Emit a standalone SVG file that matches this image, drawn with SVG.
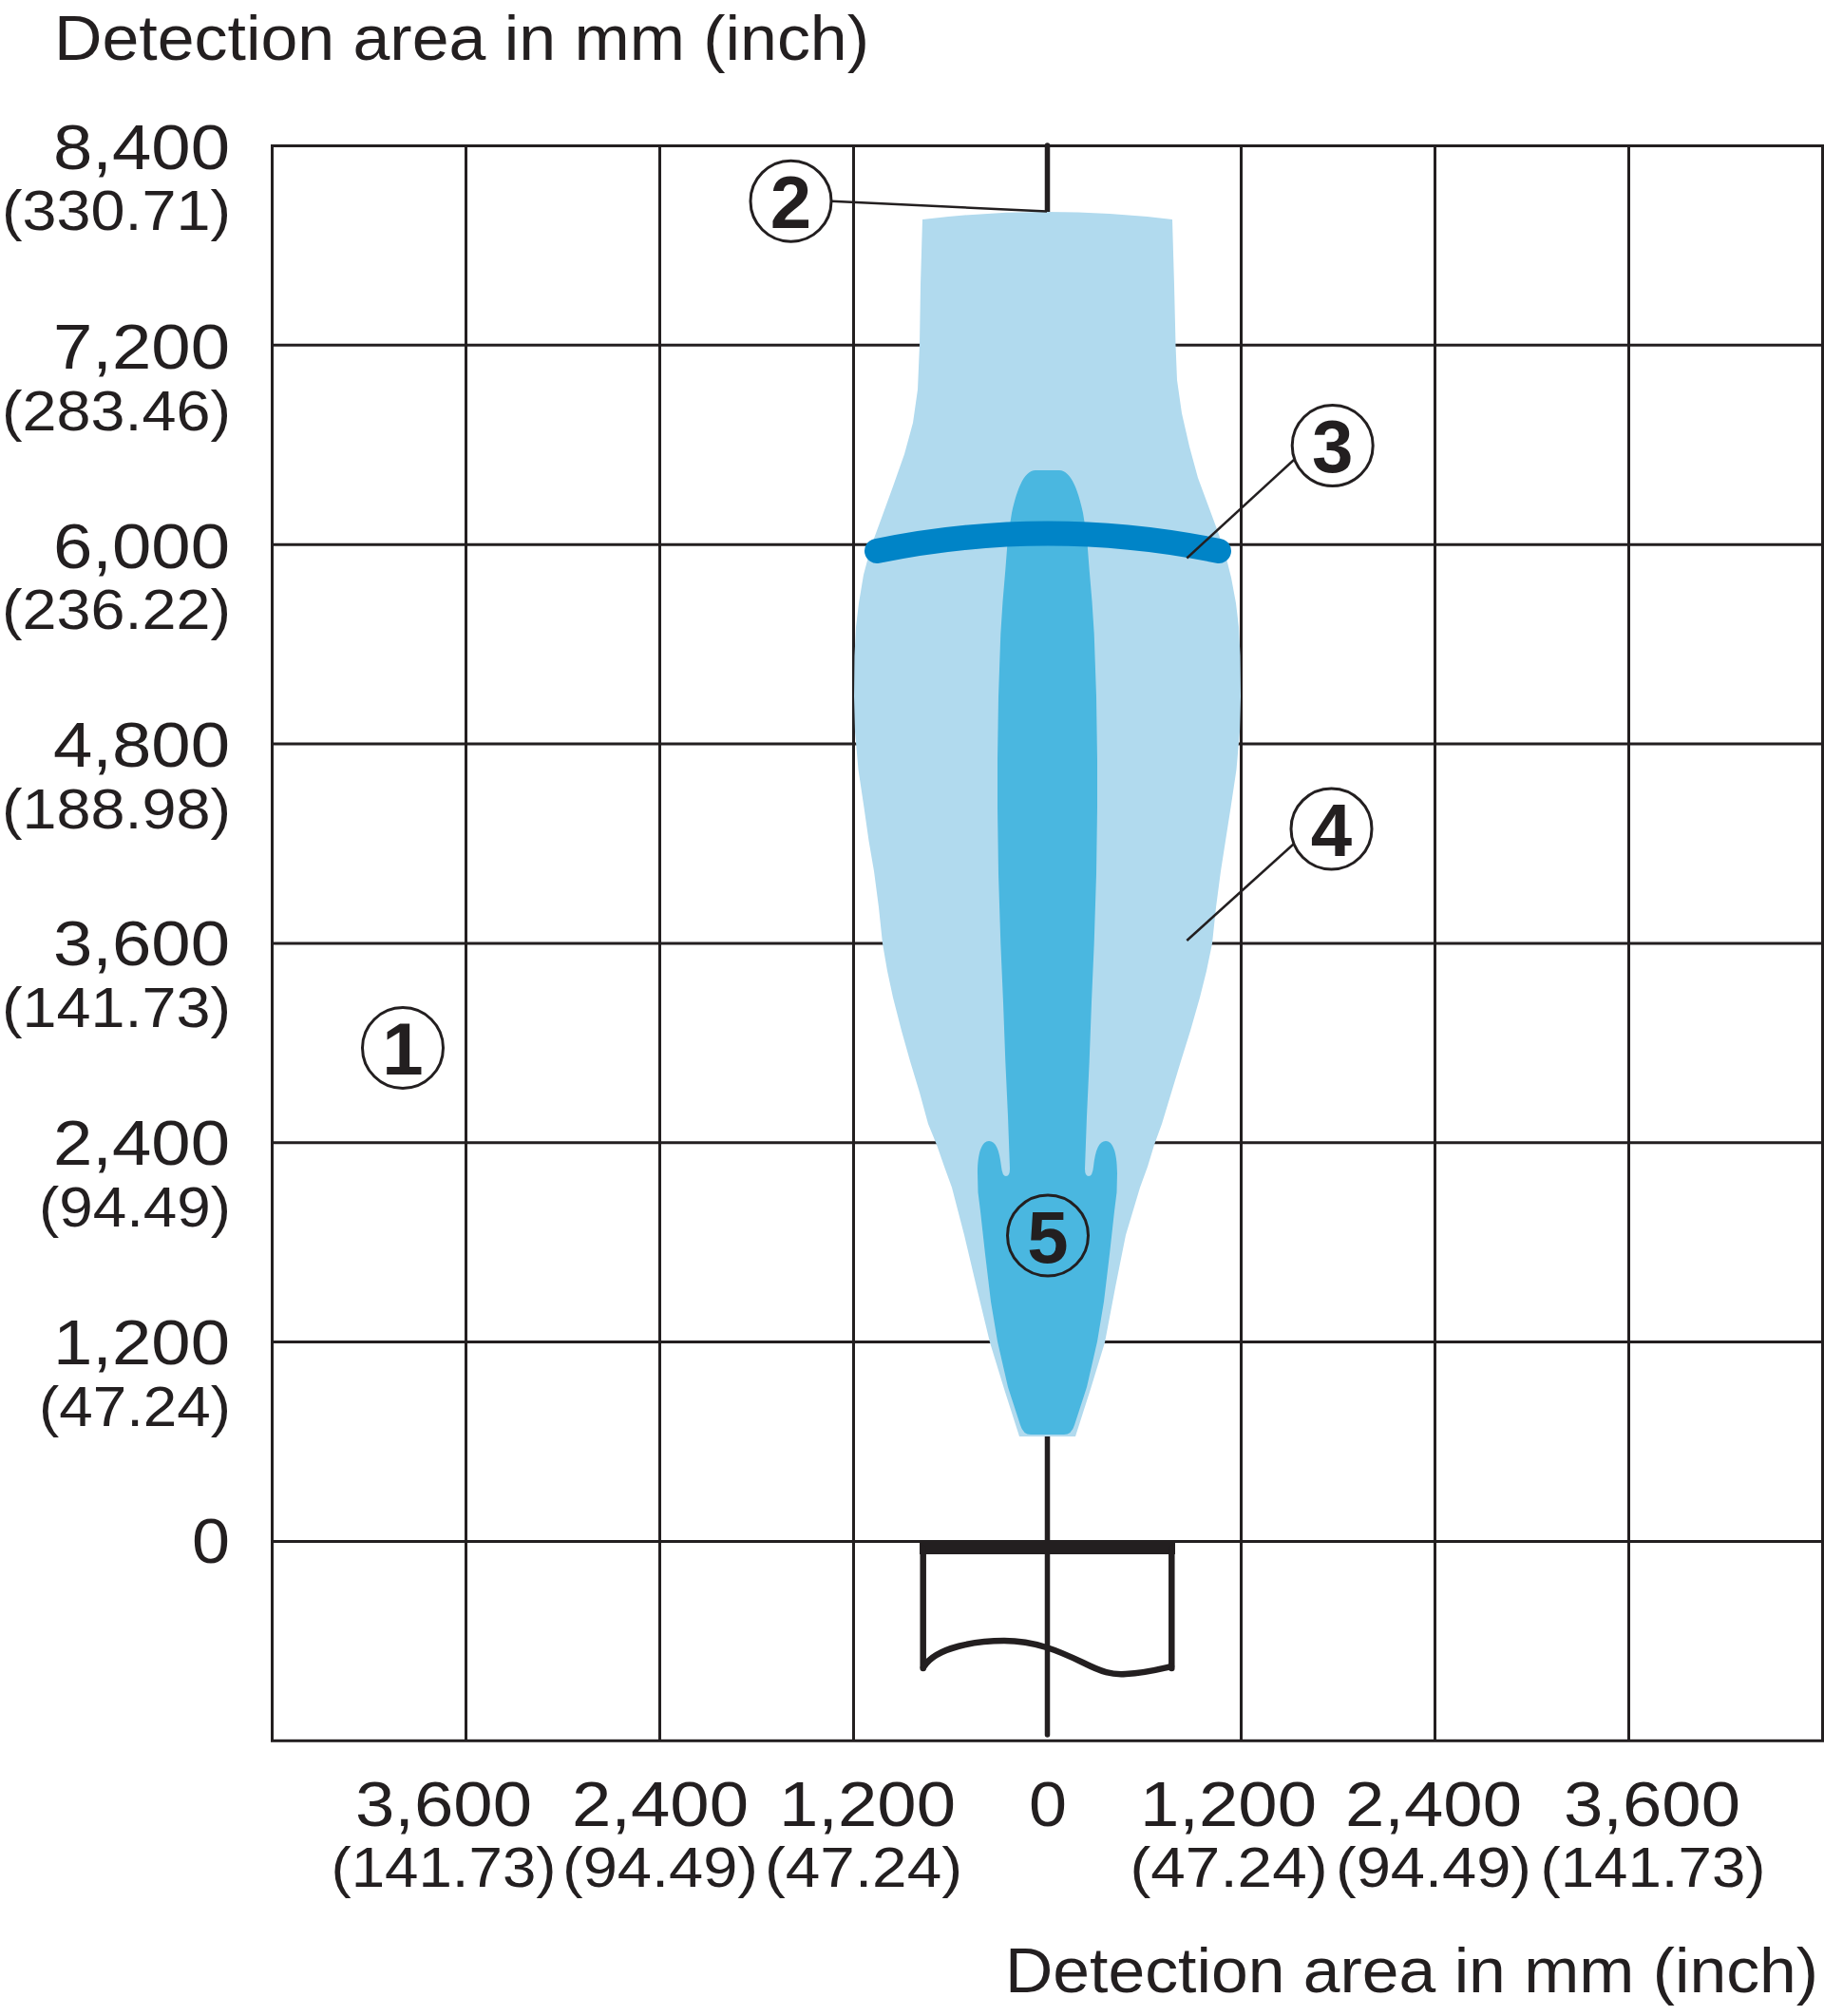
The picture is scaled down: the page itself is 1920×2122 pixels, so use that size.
<svg xmlns="http://www.w3.org/2000/svg" width="1920" height="2122" viewBox="0 0 1920 2122">
<style>
  .grid { fill: none; stroke: #231f20; stroke-width: 3; }
  .axis { stroke: #231f20; stroke-width: 5.5; stroke-linecap: round; fill: none; }
  .lbl { font-family: "Liberation Sans", Arial, sans-serif; font-size: 66px; fill: #231f20; }
  .in { font-size: 58.5px; }
  .ly { text-anchor: end; }
  .lx { text-anchor: middle; }
  .callout circle { fill: none; stroke: #231f20; stroke-width: 3; }
  .callout text { font-family: "Liberation Sans", Arial, sans-serif; font-weight: bold; font-size: 78px; fill: #231f20; text-anchor: middle; }
  .leader { stroke: #231f20; stroke-width: 2.5; fill: none; }
</style>
<rect width="1920" height="2122" fill="#ffffff"/>

<g id="grid">
  <rect class="grid" x="286.5" y="153.5" width="1632" height="1678.8"/>
  <line class="grid" x1="286.5" y1="363.35" x2="1918.5" y2="363.35"/>
  <line class="grid" x1="286.5" y1="573.2" x2="1918.5" y2="573.2"/>
  <line class="grid" x1="286.5" y1="783.05" x2="1918.5" y2="783.05"/>
  <line class="grid" x1="286.5" y1="992.9" x2="1918.5" y2="992.9"/>
  <line class="grid" x1="286.5" y1="1202.75" x2="1918.5" y2="1202.75"/>
  <line class="grid" x1="286.5" y1="1412.6" x2="1918.5" y2="1412.6"/>
  <line class="grid" x1="286.5" y1="1622.45" x2="1918.5" y2="1622.45"/>
  <line class="grid" x1="490.5" y1="153.5" x2="490.5" y2="1832.3"/>
  <line class="grid" x1="694.5" y1="153.5" x2="694.5" y2="1832.3"/>
  <line class="grid" x1="898.5" y1="153.5" x2="898.5" y2="1832.3"/>
  <line class="grid" x1="1306.5" y1="153.5" x2="1306.5" y2="1832.3"/>
  <line class="grid" x1="1510.5" y1="153.5" x2="1510.5" y2="1832.3"/>
  <line class="grid" x1="1714.5" y1="153.5" x2="1714.5" y2="1832.3"/>
</g>

<g id="title-y">
  <text class="lbl" x="57" y="62.5" textLength="858" lengthAdjust="spacingAndGlyphs">Detection area in mm (inch)</text>
</g>

<g id="y-labels">
  <text class="lbl ly" x="242" y="177.5" textLength="186" lengthAdjust="spacingAndGlyphs">8,400</text>
  <text class="lbl in ly" x="243" y="242" textLength="241" lengthAdjust="spacingAndGlyphs">(330.71)</text>
  <text class="lbl ly" x="242" y="388" textLength="186" lengthAdjust="spacingAndGlyphs">7,200</text>
  <text class="lbl in ly" x="243" y="452.5" textLength="241" lengthAdjust="spacingAndGlyphs">(283.46)</text>
  <text class="lbl ly" x="242" y="598" textLength="186" lengthAdjust="spacingAndGlyphs">6,000</text>
  <text class="lbl in ly" x="243" y="661.5" textLength="241" lengthAdjust="spacingAndGlyphs">(236.22)</text>
  <text class="lbl ly" x="242" y="807" textLength="186" lengthAdjust="spacingAndGlyphs">4,800</text>
  <text class="lbl in ly" x="243" y="871.5" textLength="241" lengthAdjust="spacingAndGlyphs">(188.98)</text>
  <text class="lbl ly" x="242" y="1016" textLength="186" lengthAdjust="spacingAndGlyphs">3,600</text>
  <text class="lbl in ly" x="243" y="1081" textLength="241" lengthAdjust="spacingAndGlyphs">(141.73)</text>
  <text class="lbl ly" x="242" y="1226" textLength="186" lengthAdjust="spacingAndGlyphs">2,400</text>
  <text class="lbl in ly" x="243" y="1290.5" textLength="202" lengthAdjust="spacingAndGlyphs">(94.49)</text>
  <text class="lbl ly" x="242" y="1436" textLength="186" lengthAdjust="spacingAndGlyphs">1,200</text>
  <text class="lbl in ly" x="243" y="1500.5" textLength="202" lengthAdjust="spacingAndGlyphs">(47.24)</text>
  <text class="lbl ly" x="242" y="1645" textLength="40" lengthAdjust="spacingAndGlyphs">0</text>
</g>

<g id="x-labels">
  <text class="lbl lx" x="467" y="1922" textLength="186" lengthAdjust="spacingAndGlyphs">3,600</text>
  <text class="lbl lx" x="695" y="1922" textLength="186" lengthAdjust="spacingAndGlyphs">2,400</text>
  <text class="lbl lx" x="913" y="1922" textLength="186" lengthAdjust="spacingAndGlyphs">1,200</text>
  <text class="lbl lx" x="1103" y="1922" textLength="40" lengthAdjust="spacingAndGlyphs">0</text>
  <text class="lbl lx" x="1293" y="1922" textLength="186" lengthAdjust="spacingAndGlyphs">1,200</text>
  <text class="lbl lx" x="1509" y="1922" textLength="186" lengthAdjust="spacingAndGlyphs">2,400</text>
  <text class="lbl lx" x="1739" y="1922" textLength="186" lengthAdjust="spacingAndGlyphs">3,600</text>
  <text class="lbl in lx" x="467" y="1986" textLength="237" lengthAdjust="spacingAndGlyphs">(141.73)</text>
  <text class="lbl in lx" x="695" y="1986" textLength="206" lengthAdjust="spacingAndGlyphs">(94.49)</text>
  <text class="lbl in lx" x="909" y="1986" textLength="208" lengthAdjust="spacingAndGlyphs">(47.24)</text>
  <text class="lbl in lx" x="1293.5" y="1986" textLength="208" lengthAdjust="spacingAndGlyphs">(47.24)</text>
  <text class="lbl in lx" x="1509" y="1986" textLength="206" lengthAdjust="spacingAndGlyphs">(94.49)</text>
  <text class="lbl in lx" x="1740" y="1986" textLength="237" lengthAdjust="spacingAndGlyphs">(141.73)</text>
</g>

<g id="title-x">
  <text class="lbl" x="1058" y="2097" textLength="856" lengthAdjust="spacingAndGlyphs">Detection area in mm (inch)</text>
</g>

<g id="sensor-axis">
  <line class="axis" x1="1102.5" y1="153" x2="1102.5" y2="222.5" stroke-linecap="butt"/>
  <line class="axis" x1="1102.5" y1="1510" x2="1102.5" y2="1826"/>
</g>

<g id="detection-area-4">
  <path fill="#b1daee" d="M971,231 Q1102,215 1234,231 L1236,300 L1237.5,363 L1239,400 L1244,435 L1252,470 L1261,503 L1271,530 L1281,557 L1289,580 L1296,608 L1301,635 L1304,660 L1305.5,690 L1306,733 L1305,770 L1301.5,810 L1295.5,850 L1290,885 L1285,917 L1280,955 L1276,993 L1270,1022 L1263,1050 L1253,1085 L1243,1117 L1233,1150 L1223,1183 L1215,1205 L1208,1228 L1200,1250 L1185,1300 L1174,1355 L1163,1413 L1148,1462 L1132,1512 L1073,1512 L1057,1462 L1042,1413 L1028,1355 L1015,1300 L1002,1250 L994,1228 L986,1205 L977,1183 L968,1150 L958,1117 L949,1085 L940,1050 L934,1022 L929,993 L925,955 L920,917 L914.5,885 L909.5,850 L903.5,810 L900,770 L899,733 L899.5,690 L901,660 L904,635 L909,605 L917,575 L928,545 L940,512 L952,478 L961,445 L966,410 L968,363 L969,300 Z"/>
</g>

<g id="detection-area-5">
  <path fill="#4ab7e0" d="M1090,495 L1115,495 C1126,495 1134,512 1140,540 L1144,565 L1146.7,600 L1149.5,633 L1151.7,667 L1154,733 L1155,800 L1155,850 L1154,920 L1151.7,993 L1149,1055 L1146.7,1117 L1144,1175 L1142,1230 Q1142,1238 1146,1238 Q1150,1238 1151,1228 C1153,1210 1157,1201 1164,1201 C1171,1201 1176,1212 1176,1235 L1175.5,1255 L1173,1275 L1168,1320 L1162,1370 L1155,1412 L1144,1460 L1131,1500 Q1128,1510 1120,1510 L1085,1510 Q1077,1510 1074,1500 L1061,1460 L1050,1412 L1043,1370 L1037,1320 L1032,1275 L1029.5,1255 L1029,1235 C1029,1212 1034,1201 1041,1201 C1048,1201 1052,1210 1054,1228 Q1055,1238 1059,1238 Q1063,1238 1063,1230 L1061,1175 L1058.3,1117 L1056,1055 L1053.3,993 L1051,920 L1050,850 L1050,800 L1051,733 L1053.3,667 L1055.5,633 L1058.3,600 L1061,565 L1065,540 C1071,512 1079,495 1090,495 Z"/>
</g>

<g id="switching-line-3">
  <path d="M923,580 Q1103,543 1283,580" fill="none" stroke="#0084c7" stroke-width="26" stroke-linecap="round"/>
</g>

<g id="sensor">
  <rect x="968" y="1622" width="269" height="14" fill="#231f20"/>
  <line x1="971.7" y1="1630" x2="971.7" y2="1756" stroke="#231f20" stroke-width="6.5" stroke-linecap="round"/>
  <line x1="1233.3" y1="1630" x2="1233.3" y2="1756" stroke="#231f20" stroke-width="6.5" stroke-linecap="round"/>
  <path d="M972,1755 C985,1733 1030,1727 1057,1727 C1090,1727 1115,1738 1140,1750 C1160,1760 1170,1763 1185,1762 C1205,1761 1220,1757 1233,1754" fill="none" stroke="#231f20" stroke-width="6.5" stroke-linecap="round"/>
</g>

<g id="connectors">
  <path class="leader" d="M875,211.7 L1102,222.5"/>
  <path class="leader" d="M1249.3,587.5 L1362,484"/>
  <path class="leader" d="M1249.3,990 L1361.3,888.8"/>
</g>

<g id="callout-1" class="callout">
  <circle cx="424" cy="1103" r="42.5"/>
  <text x="424" y="1131">1</text>
</g>
<g id="callout-2" class="callout">
  <circle cx="832.5" cy="211.7" r="42.5"/>
  <text x="832.5" y="239.5">2</text>
</g>
<g id="callout-3" class="callout">
  <circle cx="1402.7" cy="469" r="42.5"/>
  <text x="1402.7" y="497">3</text>
</g>
<g id="callout-4" class="callout">
  <circle cx="1401.5" cy="872.4" r="42.5"/>
  <text x="1401.5" y="900.5">4</text>
</g>
<g id="callout-5" class="callout">
  <circle cx="1103" cy="1300.5" r="42.5"/>
  <text x="1103" y="1328.5">5</text>
</g>
</svg>
